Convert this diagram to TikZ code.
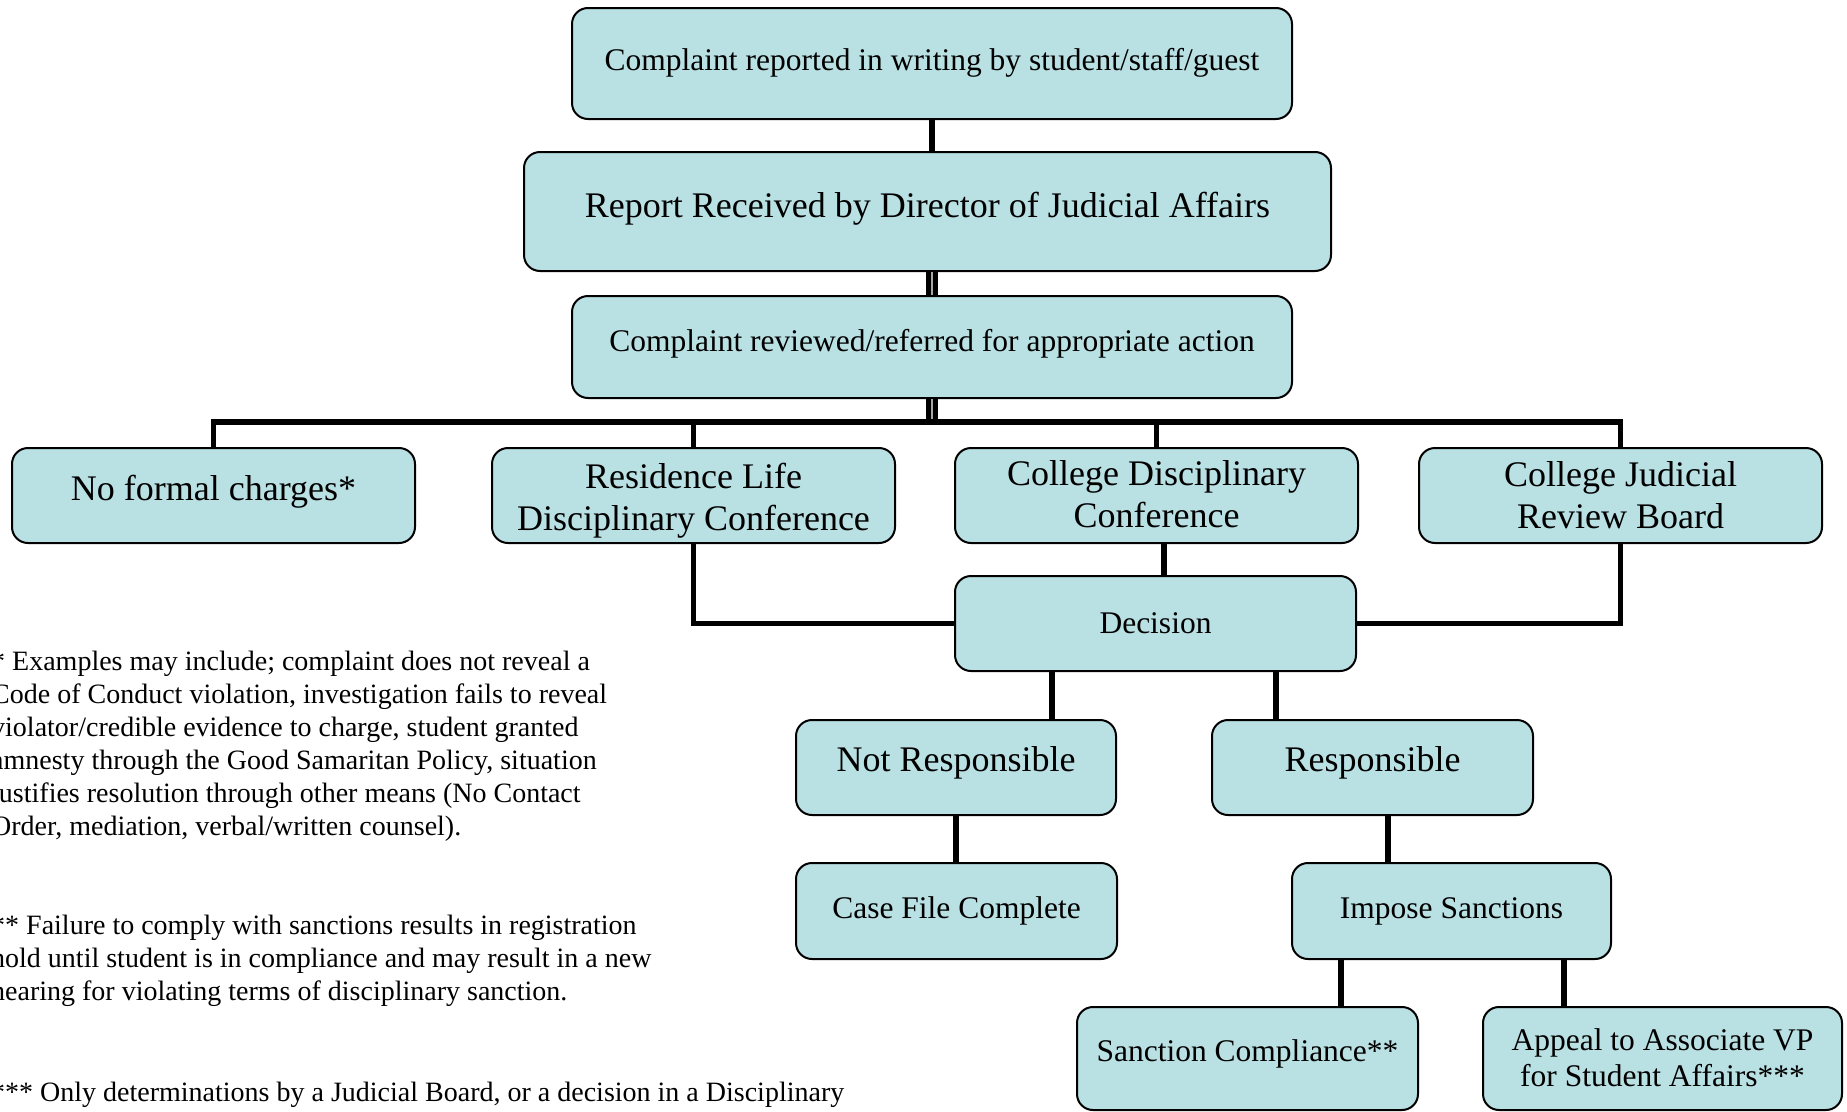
\documentclass[tikz,border=0pt]{standalone}
\usepackage{fontspec}
\setmainfont{Liberation Serif}
\definecolor{boxfill}{RGB}{185,224,227}
\newcommand{\shiftup}[2]{\raisebox{#1}[\height][\depth]{#2}}
\newcommand{\mltext}[2]{\raisebox{#1}[\height][\depth]{\begin{tabular}{@{}c@{}}#2\end{tabular}}}
\begin{document}
\begin{tikzpicture}[x=1pt,y=-1pt,
  box/.style={draw=black, line width=2pt, fill=boxfill, rounded corners=16pt, align=center, inner sep=0pt},
  conn/.style={line width=5.5pt, black},
  dconn/.style={line width=5pt, black, double=black!35, double distance=2pt},
  small/.style={font=\fontsize{31.5}{36}\selectfont},
  large/.style={font=\fontsize{36}{42}\selectfont},
  note/.style={font=\fontsize{28}{33}\selectfont, anchor=north west, inner sep=0pt, align=left}]
\useasboundingbox (0,0) rectangle (1847,1111);
\clip (0,0) rectangle (1847,1111);
\coordinate (busy) at (0,422);

\node[box, small, minimum width=720pt, minimum height=111pt] (top) at (932,63.5) {\shiftup{1pt}{Complaint reported in writing by student/staff/guest}};
\node[box, large, minimum width=807pt, minimum height=119pt] (report) at (927.5,211.5) {\shiftup{2.5pt}{Report Received by Director of Judicial Affairs}};
\node[box, small, minimum width=720pt, minimum height=102pt] (reviewed) at (932,347) {\shiftup{3.5pt}{Complaint reviewed/referred for appropriate action}};

\node[box, large, minimum width=403pt, minimum height=95pt] (nfc) at (213.5,495.5) {\shiftup{3.5pt}{No formal charges*}};
\node[box, large, minimum width=403pt, minimum height=95pt] (rl) at (693.5,495.5) {\mltext{-6pt}{Residence Life\\Disciplinary Conference}};
\node[box, large, minimum width=403pt, minimum height=95pt] (cdc) at (1156.5,495.5) {\mltext{-3pt}{College Disciplinary\\Conference}};
\node[box, large, minimum width=403pt, minimum height=95pt] (cjrb) at (1620.5,495.5) {\mltext{-3.5pt}{College Judicial\\Review Board}};

\node[box, small, minimum width=401pt, minimum height=95pt] (decision) at (1155.5,623.5) {Decision};

\node[box, large, minimum width=320pt, minimum height=95pt] (nr) at (956,767.5) {\shiftup{4.5pt}{Not Responsible}};
\node[box, large, minimum width=321pt, minimum height=95pt] (resp) at (1372.5,767.5) {\shiftup{4.5pt}{Responsible}};

\node[box, small, minimum width=321pt, minimum height=96pt] (cfc) at (956.5,911) {Case File Complete};
\node[box, small, minimum width=319pt, minimum height=96pt] (impose) at (1451.5,911) {Impose Sanctions};

\node[box, small, minimum width=341pt, minimum height=103pt] (sc) at (1247.5,1058.5) {\shiftup{5pt}{Sanction Compliance**}};
\node[box, small, minimum width=359pt, minimum height=103pt] (appeal) at (1662.5,1058.5) {\mltext{-3pt}{Appeal to Associate VP\\for Student Affairs***}};

% connectors
\draw[conn] (top.south) -- (top.south |- report.north);
\draw[dconn] (report.south -| top.south) -- (reviewed.north);
\draw[dconn] (reviewed.south) -- (reviewed.south |- busy);
\draw[conn] (nfc.north) -- (nfc.north |- busy) -- (cjrb.north |- busy) -- (cjrb.north);
\draw[conn] (rl.north |- busy) -- (rl.north);
\draw[conn] (cdc.north |- busy) -- (cdc.north);
\draw[conn] (rl.south) |- (decision.west);
\draw[conn] (cjrb.south) |- (decision.east);
\draw[conn] (cdc.south -| 1164,0) -- (decision.north -| 1164,0);
\draw[conn] (decision.south -| 1052,0) -- (nr.north -| 1052,0);
\draw[conn] (decision.south -| 1276,0) -- (resp.north -| 1276,0);
\draw[conn] (nr.south) -- (cfc.north -| nr.south);
\draw[conn] (resp.south -| 1388,0) -- (impose.north -| 1388,0);
\draw[conn] (impose.south -| 1341,0) -- (sc.north -| 1341,0);
\draw[conn] (impose.south -| 1564,0) -- (appeal.north -| 1564,0);

% footnotes
\node[note] (fn1) at (-9,650.5) {* Examples may include; complaint does not reveal a\\
Code of Conduct violation, investigation fails to reveal\\
violator/credible evidence to charge, student granted\\
amnesty through the Good Samaritan Policy, situation\\
justifies resolution through other means (No Contact\\
Order, mediation, verbal/written counsel).};
\node[note] (fn2) at (-9,914.5) {** Failure to comply with sanctions results in registration\\
hold until student is in compliance and may result in a new\\
hearing for violating terms of disciplinary sanction.};
\node[note] (fn3) at (-9,1081.5) {*** Only determinations by a Judicial Board, or a decision in a Disciplinary};
\end{tikzpicture}
\end{document}
